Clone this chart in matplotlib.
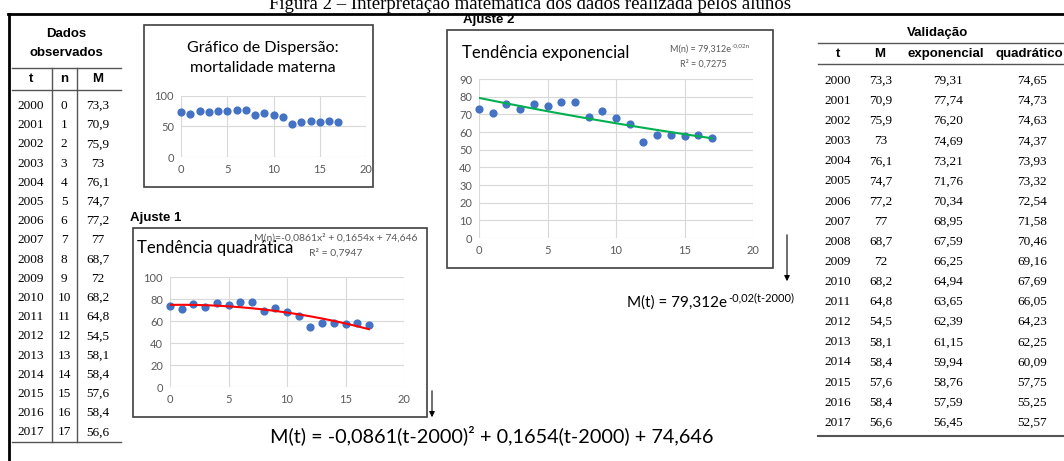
import matplotlib
matplotlib.use("Agg")
import matplotlib.pyplot as plt
from matplotlib import font_manager
from matplotlib.lines import Line2D
from matplotlib.patches import Rectangle, FancyArrowPatch

# dados observados
anos = [2000, 2001, 2002, 2003, 2004, 2005, 2006, 2007, 2008,
        2009, 2010, 2011, 2012, 2013, 2014, 2015, 2016, 2017]
n = [0, 1, 2, 3, 4, 5, 6, 7, 8, 9, 10, 11, 12, 13, 14, 15, 16, 17]
M = [73.3, 70.9, 75.9, 73, 76.1, 74.7, 77.2, 77, 68.7,
     72, 68.2, 64.8, 54.5, 58.1, 58.4, 57.6, 58.4, 56.6]
# validacao
exponencial = [79.31, 77.74, 76.20, 74.69, 73.21, 71.76, 70.34, 68.95, 67.59,
               66.25, 64.94, 63.65, 62.39, 61.15, 59.94, 58.76, 57.59, 56.45]
quadratico = [74.65, 74.73, 74.63, 74.37, 73.93, 73.32, 72.54, 71.58, 70.46,
              69.16, 67.69, 66.05, 64.23, 62.25, 60.09, 57.75, 55.25, 52.57]

W, H = 1064, 461
plt.rcParams['font.family'] = ['Lato', 'DejaVu Sans']

try:
    font_manager.findfont('Liberation Sans Narrow', fallback_to_default=False)
    narrow = 'Liberation Sans Narrow'
    nsize = 11
except Exception:
    narrow = 'Liberation Sans'
    nsize = 9.5
serif = 'Liberation Serif'

fig = plt.figure(figsize=(W / 100, H / 100), dpi=100)
fig.patch.set_facecolor('white')


def fx(x):
    return x / W


def fy(y):
    return 1 - y / H


def txt(x, y, s, **kw):
    kw.setdefault('va', 'center')
    kw.setdefault('ha', 'center')
    return fig.text(fx(x), fy(y), s, **kw)


def hline(x0, x1, y, c='#555555', lw=1.0):
    fig.add_artist(Line2D([fx(x0), fx(x1)], [fy(y), fy(y)], transform=fig.transFigure, color=c, lw=lw))


def vline(x, y0, y1, c='#555555', lw=1.0):
    fig.add_artist(Line2D([fx(x), fx(x)], [fy(y0), fy(y1)], transform=fig.transFigure, color=c, lw=lw))


def box(l, t, r, b):
    fig.add_artist(Rectangle((fx(l), fy(b)), (r - l) / W, (b - t) / H, transform=fig.transFigure,
                             fill=False, ec='#404040', lw=1.2))


def axes_px(l, t, r, b):
    return fig.add_axes([fx(l), fy(b), (r - l) / W, (b - t) / H])


def fmt(v, d=None):
    s = '{:.2f}'.format(v) if d else '{:g}'.format(v)
    return s.replace('.', ',')


def style(ax, ymax, ystep):
    ax.set_xlim(0, 20)
    ax.set_ylim(0, ymax)
    ax.set_xticks(range(0, 21, 5))
    ax.set_yticks(range(0, ymax + 1, ystep))
    ax.grid(color='#D9D9D9', lw=0.8)
    ax.set_axisbelow(True)
    for s in ax.spines.values():
        s.set_visible(False)
    ax.tick_params(length=0, labelsize=8, labelcolor='#595959', pad=5)
    ax.patch.set_alpha(0)


renderer = fig.canvas.get_renderer()


def sup_text(x, y, base, sup, size, supsize, rise, color='black', ha='left'):
    # texto com expoente
    if ha == 'left':
        t = txt(x, y, base, ha='left', fontsize=size, color=color)
        bb = t.get_window_extent(renderer=renderer)
        txt(bb.x1 + 1, y - rise, sup, ha='left', fontsize=supsize, color=color)
    else:
        s = txt(x, y - rise, sup, ha='right', fontsize=supsize, color=color)
        bb = s.get_window_extent(renderer=renderer)
        txt(bb.x0 - 1, y, base, ha='right', fontsize=size, color=color)


# titulo e moldura
txt(530, 9, 'Figura 2 \u2013 Interpretação matemática dos dados realizada pelos alunos',
    va='baseline', family=serif, fontsize=13.5)
hline(8, W, 14, c='black', lw=2)
vline(9, 14, H, c='black', lw=2)

# tabela dados observados
txt(66, 34, 'Dados', family=narrow, weight='bold', fontsize=nsize)
txt(66, 53, 'observados', family=narrow, weight='bold', fontsize=nsize)
hline(12, 121, 68)
txt(31, 79, 't', family=narrow, weight='bold', fontsize=nsize)
txt(64, 79, 'n', family=narrow, weight='bold', fontsize=nsize)
txt(98, 79, 'M', family=narrow, weight='bold', fontsize=nsize)
hline(12, 121, 90)
step = 19.2
for i, a in enumerate(anos):
    y = 106 + i * step
    txt(31, y, str(a), family=serif, fontsize=9.5)
    txt(64, y, str(n[i]), family=serif, fontsize=9.5)
    txt(98, y, fmt(M[i]), family=serif, fontsize=9.5)
bottom = 106 + 17 * step + 10
hline(12, 121, bottom)
vline(52, 68, bottom)
vline(77, 68, bottom)

# tabela validacao
txt(938, 33, 'Validação', family=narrow, weight='bold', fontsize=nsize)
hline(818, W, 43)
txt(838, 54, 't', family=narrow, weight='bold', fontsize=nsize)
txt(880, 54, 'M', family=narrow, weight='bold', fontsize=nsize)
txt(946, 54, 'exponencial', family=narrow, weight='bold', fontsize=nsize)
txt(1029, 54, 'quadrático', family=narrow, weight='bold', fontsize=nsize)
hline(818, W, 64)
step2 = 20.1
for i, a in enumerate(anos):
    y = 81 + i * step2
    txt(838, y, str(a), family=serif, fontsize=9.5)
    txt(881, y, fmt(M[i]), family=serif, fontsize=9.5)
    txt(948, y, fmt(exponencial[i], 2), family=serif, fontsize=9.5)
    txt(1032, y, fmt(quadratico[i], 2), family=serif, fontsize=9.5)
hline(818, W, 81 + 17 * step2 + 13, lw=1.5)

# grafico de dispersao
box(144, 25, 373, 187)
txt(263, 48, 'Gráfico de Dispersão:', fontsize=11.5)
txt(263, 68, 'mortalidade materna', fontsize=11.5)
ax1 = axes_px(181, 96, 366, 157)
style(ax1, 100, 50)
ax1.scatter(n, M, s=24, color='#4472C4', zorder=3, clip_on=False)

# ajuste 1 - quadratica
txt(130, 218, 'Ajuste 1', ha='left', family=narrow, weight='bold', fontsize=nsize)
box(133, 228, 427, 417)
txt(137, 248, 'Tendência quadrática', ha='left', fontsize=12)
txt(418, 238, 'M(n)=-0,0861x² + 0,1654x + 74,646', ha='right', fontsize=7.5, color='#595959')
txt(336, 253, 'R² = 0,7947', fontsize=7.5, color='#595959')
ax2 = axes_px(170, 277, 404, 387)
style(ax2, 100, 20)
ax2.scatter(n, M, s=24, color='#4472C4', zorder=3, clip_on=False)
ax2.plot(n, quadratico, color='red', lw=1.5, zorder=4)

# ajuste 2 - exponencial
txt(463, 20, 'Ajuste 2', ha='left', family=narrow, weight='bold', fontsize=nsize)
box(447, 30, 773, 268)
txt(462, 53, 'Tendência exponencial', ha='left', fontsize=12)
sup_text(750, 49, 'M(n) = 79,312e', '-0,02n', 6.5, 4.5, 3, color='#595959', ha='right')
txt(703, 64, 'R² = 0,7275', fontsize=6.5, color='#595959')
ax3 = axes_px(479, 79, 753, 238)
style(ax3, 90, 10)
ax3.scatter(n, M, s=24, color='#4472C4', zorder=3, clip_on=False)
ax3.plot(n, exponencial, color='#00B050', lw=1.5, zorder=4)

# setas e equacoes finais
fig.add_artist(FancyArrowPatch((fx(432), fy(388)), (fx(432), fy(420)), transform=fig.transFigure,
                               arrowstyle='-|>', mutation_scale=8, color='black', lw=0.8))
fig.add_artist(FancyArrowPatch((fx(787), fy(232)), (fx(787), fy(284)), transform=fig.transFigure,
                               arrowstyle='-|>', mutation_scale=8, color='black', lw=0.8))
txt(270, 435, 'M(t) = -0,0861(t-2000)² + 0,1654(t-2000) + 74,646', ha='left', fontsize=14.3)
sup_text(627, 303, 'M(t) = 79,312e', '-0,02(t-2000)', 11, 8, 5)

fig.savefig('out.png', dpi=100)
